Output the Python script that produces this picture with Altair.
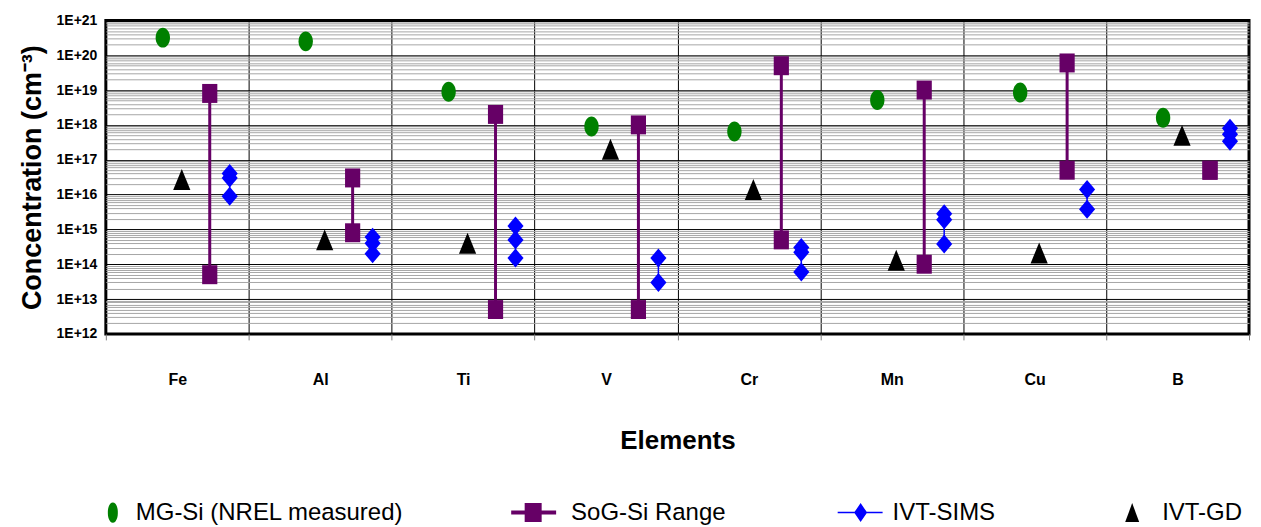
import altair as alt
import pandas as pd

# ---- data ----
elements = ["Fe", "Al", "Ti", "V", "Cr", "Mn", "Cu", "B"]
mg_si = [3.2e20, 2.5e20, 9e18, 9e17, 6.5e17, 5.2e18, 8.5e18, 1.6e18]
ivt_gd = [2.7e16, 5e14, 4e14, 2e17, 1.4e16, 1.3e14, 2.1e14, 5e17]
sog_low = [5e13, 8e14, 5e12, 5e12, 5e14, 1e14, 5e16, 5e16]
sog_high = [8e18, 3e16, 2e18, 1e18, 5e19, 1e19, 6e19, 5e16]
ivt_sims = {
    "Fe": [4e16, 3e16, 9e15],
    "Al": [6e14, 4e14, 2e14],
    "Ti": [1.25e15, 5e14, 1.5e14],
    "V": [1.5e14, 3e13],
    "Cr": [3e14, 2.2e14, 6e13],
    "Mn": [2.8e15, 1.9e15, 3.8e14],
    "Cu": [1.4e16, 3.8e15],
    "B": [8e17, 5.4e17, 3.4e17],
}
series = ["MG-Si (NREL measured)", "SoG-Si Range", "IVT-SIMS", "IVT-GD"]
colors = ["#008000", "#660066", "#0000FF", "#000000"]
decades = [1e12, 1e13, 1e14, 1e15, 1e16, 1e17, 1e18, 1e19, 1e20, 1e21]

# ---- tables built from the arrays ----
rows = []
for e, v in zip(elements, mg_si):
    rows.append({"element": e, "series": series[0], "value": v})
for e, lo, hi in zip(elements, sog_low, sog_high):
    rows.append({"element": e, "series": series[1], "value": lo})
    rows.append({"element": e, "series": series[1], "value": hi})
for e in elements:
    for v in ivt_sims[e]:
        rows.append({"element": e, "series": series[2], "value": v})
for e, v in zip(elements, ivt_gd):
    rows.append({"element": e, "series": series[3], "value": v})
points = pd.DataFrame(rows)

sog_range = pd.DataFrame({"element": elements, "low": sog_low, "high": sog_high})
sims_range = pd.DataFrame({
    "element": elements,
    "low": [min(ivt_sims[e]) for e in elements],
    "high": [max(ivt_sims[e]) for e in elements],
})

# ---- styling ----
# marker shapes in the plot (unit box scaled by size)
shape_paths = [
    "M-0.72,0 A0.72,1 0 1,1 0.72,0 A0.72,1 0 1,1 -0.72,0 Z",
    "M-0.8,-1 L0.8,-1 L0.8,1 L-0.8,1 Z",
    "M0,-1 L0.85,0 L0,1 L-0.85,0 Z",
    "M0,-1 L0.82,1 L-0.82,1 Z",
]
offsets = [-14.5, 32.5, 52.5, 4.5]
sizes = [400, 361, 361, 441]

# legend symbols (line + marker like the spreadsheet legend)
legend_paths = [
    "M0.167,0 A0.167,0.317 0 1,1 0.5,0 A0.167,0.317 0 1,1 0.167,0 Z",
    "M-0.9,-0.067 L-0.45,-0.067 L-0.45,-0.317 L0.117,-0.317 L0.117,-0.067 L0.6,-0.067 "
    "L0.6,0.067 L0.117,0.067 L0.117,0.317 L-0.45,0.317 L-0.45,0.067 L-0.9,0.067 Z",
    "M-0.733,-0.025 L-0.167,-0.025 L0.033,-0.317 L0.233,-0.025 L0.767,-0.025 L0.767,0.025 "
    "L0.233,0.025 L0.033,0.317 L-0.167,0.025 L-0.733,0.025 Z",
    "M0.1,-0.317 L0.333,0.317 L-0.133,0.317 Z",
]

tick_values = [d * k for d in decades[:-1] for k in range(1, 10)] + [decades[-1]]
is_decade = "abs(log(datum.value)/LN10 - round(log(datum.value)/LN10)) < 0.001"

y_scale = alt.Scale(type="log", domain=[1e12, 1e21], nice=False)
y_axis = alt.Axis(
    values=tick_values,
    labelExpr=f"({is_decade}) ? '1E+' + round(log(datum.value)/LN10) : ''",
    labelOverlap=False,
    labelBound=False,
    ticks=False,
    domain=False,
    grid=True,
    gridColor={"condition": {"test": is_decade, "value": "#000000"}, "value": "#a6a6a6"},
    gridWidth=1,
    labelFont="Liberation Sans",
    labelFontWeight="bold",
    labelFontSize=14,
    labelColor="#000000",
    labelPadding=9,
    title="Concentration (cm⁻³)",
    titleFont="Liberation Sans",
    titleFontSize=27,
    titleFontWeight="bold",
    titleColor="#000000",
    titlePadding=10,
)
x_scale = alt.Scale(type="band", domain=elements, paddingInner=0, paddingOuter=0)
x_axis = alt.Axis(
    tickBand="extent",
    grid=True,
    gridColor="#000000",
    gridWidth=1,
    domain=False,
    ticks=True,
    tickSize=6,
    tickColor="#808080",
    labelAngle=0,
    labelFont="Liberation Sans",
    labelFontWeight="bold",
    labelFontSize=16,
    labelColor="#000000",
    labelPadding=32,
    title="Elements",
    titleFont="Liberation Sans",
    titleFontSize=26,
    titleFontWeight="bold",
    titleColor="#000000",
    titlePadding=40,
)

X = alt.X("element:N", scale=x_scale, axis=x_axis, sort=elements)

legend = alt.Legend(
    title=None,
    orient="none",
    direction="horizontal",
    legendX=-33,
    legendY=463,
    columns=4,
    columnPadding=104,
    symbolSize=3600,
    symbolStrokeWidth=0,
    symbolOpacity=1,
    labelFont="Liberation Sans",
    labelFontSize=24,
    labelColor="#000000",
    labelOffset=3,
    labelLimit=400,
    padding=0,
)

sog_rule = alt.Chart(sog_range).mark_rule(color="#660066", strokeWidth=3, xOffset=offsets[1]).encode(
    x=X,
    y=alt.Y("low:Q", scale=y_scale, axis=y_axis),
    y2="high:Q",
)
sims_rule = alt.Chart(sims_range).mark_rule(color="#0000FF", strokeWidth=1.5, xOffset=offsets[2]).encode(
    x=X,
    y=alt.Y("low:Q", scale=y_scale, axis=y_axis),
    y2="high:Q",
)

layers = [sog_rule, sims_rule]
for s, c, path, off, sz in zip(series, colors, shape_paths, offsets, sizes):
    layer = alt.Chart(points).transform_filter(
        alt.datum.series == s
    ).mark_point(
        filled=True, opacity=1, size=sz, xOffset=off, strokeWidth=0, shape=path, color=c
    ).encode(
        x=X,
        y=alt.Y("value:Q", scale=y_scale, axis=y_axis),
    )
    layers.append(layer)

# zero-size layer that only carries the legend
legend_layer = alt.Chart(points).mark_point(filled=True, size=0, strokeWidth=0).encode(
    x=X,
    y=alt.Y("value:Q", scale=y_scale, axis=y_axis),
    color=alt.Color("series:N", scale=alt.Scale(domain=series, range=colors), legend=legend),
    shape=alt.Shape("series:N", scale=alt.Scale(domain=series, range=legend_paths), legend=legend),
)
layers.insert(0, legend_layer)

chart = alt.layer(*layers).properties(
    width=1145,
    height=314,
    padding={"left": 10, "top": 5, "right": 3, "bottom": 0},
).configure_view(
    stroke="#000000",
    strokeWidth=3,
)

chart.save("out.html", embed_options={"renderer": "svg", "actions": False})
